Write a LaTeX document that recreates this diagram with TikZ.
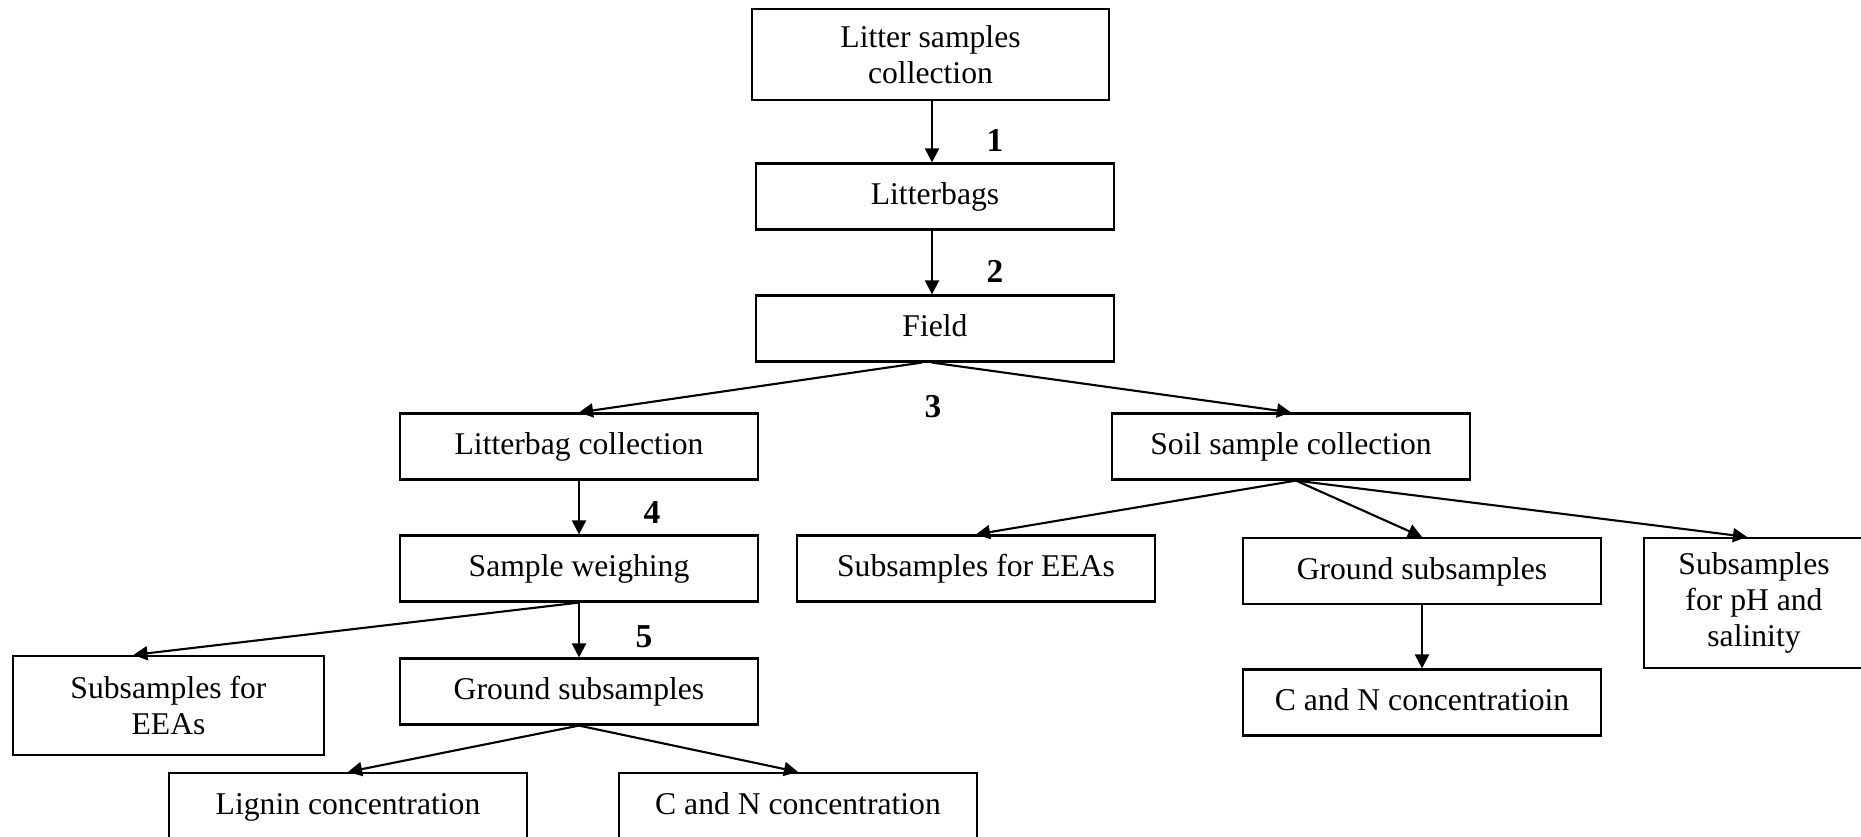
\documentclass[tikz,border=0pt]{standalone}
\usepackage{fontspec}
\setmainfont{Liberation Serif}
\usetikzlibrary{arrows.meta}
\tikzstyle{stagebox}=[rectangle,draw=black,semithick,minimum width=3.57cm,minimum height=0.66cm,inner sep=1pt,align=center,font=\fontsize{9pt}{10.2pt}\selectfont]
\tikzstyle{onelinebox}=[stagebox,text height=0.7em,text depth=0.22em]
\tikzstyle{edge} = [draw,semithick,-{Triangle[length=4pt,width=4pt]}]
\tikzstyle{steplabel} = [font=\fontsize{9.5pt}{11pt}\selectfont\bfseries]

\begin{document}
\begin{tikzpicture}[x=0.01cm,y=-0.01cm]
    \useasboundingbox (0,0) rectangle (1861,837);

    % First we draw the boxes
    \foreach \pos/\name/\label in {{(935,196.5)/bags/Litterbags}, {(935,328.5)/field/Field},
        {(579,446.5)/lbcoll/Litterbag collection}, {(1291,446.5)/soilcoll/Soil sample collection},
        {(579,568.5)/weigh/Sample weighing}, {(976,568.5)/eeaS/Subsamples for EEAs},
        {(1422,571)/groundS/Ground subsamples}, {(1422,702.5)/cnS/C and N concentratioin},
        {(579,691.5)/groundL/Ground subsamples}, {(348,806)/lignin/Lignin concentration},
        {(798,806)/cnL/C and N concentration}}
        \node[onelinebox] (\name) at \pos {\label};

    \node[stagebox, minimum height=0.91cm] (coll) at (930.5,54.5) {Litter samples\\collection};
    \node[stagebox, minimum width=2.2cm, minimum height=1.3cm] (phS) at (1754,603) {Subsamples\\for pH and\\salinity};
    \node[stagebox, minimum width=3.11cm, minimum height=0.99cm] (eeaL) at (168.5,705.5) {Subsamples for\\EEAs};

    % Connect boxes with arrows
    \path[edge] ([xshift=0.015cm]coll.south) -- ([xshift=0.015cm]coll.south |- bags.north);
    \path[edge] ([xshift=-0.03cm]bags.south) -- ([xshift=-0.03cm]bags.south |- field.north);
    \foreach \source/\dest in {lbcoll/weigh, weigh/groundL, groundS/cnS}
        \path[edge] (\source.south) -- (\source.south |- \dest.north);

    \path[edge] ([xshift=-0.13cm]field.south) -- (lbcoll.north);
    \path[edge] ([xshift=-0.03cm]field.south) -- (soilcoll.north);
    \foreach \dest in {eeaS, groundS}
        \path[edge] ([xshift=0.05cm]soilcoll.south) -- (\dest.north);
    \path[edge] ([xshift=0.05cm]soilcoll.south) -- ([xshift=-0.07cm]phS.north);
    \path[edge] (weigh.south) -- ([xshift=-0.35cm]eeaL.north);
    \foreach \dest in {lignin, cnL}
        \path[edge] (groundL.south) -- (\dest.north);

    % Step numbers
    \foreach \pos/\name/\label in {{(995,140)/n1/1}, {(995,271)/n2/2}, {(933,407)/n3/3}, {(652,513)/n4/4}, {(644,637)/n5/5}}
        \node[steplabel] (\name) at \pos {\label};
\end{tikzpicture}
\end{document}
